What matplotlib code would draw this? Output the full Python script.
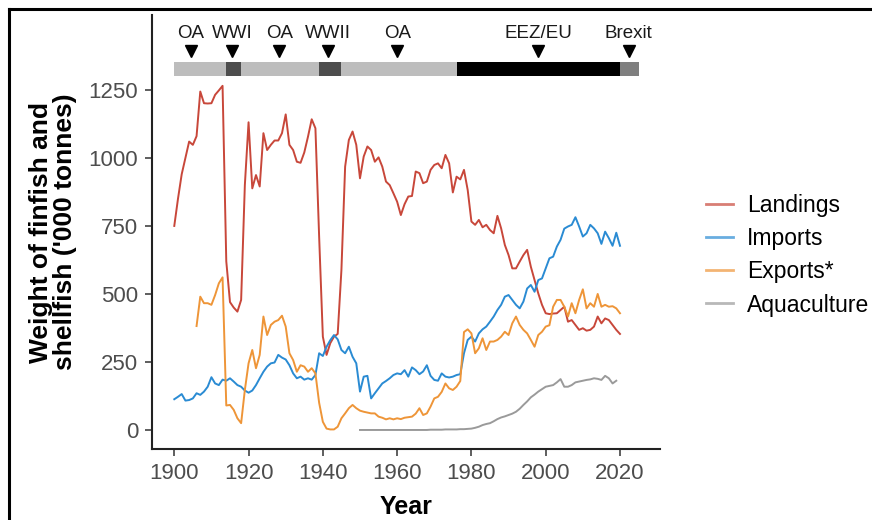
import matplotlib
matplotlib.use("Agg")
import matplotlib.pyplot as plt
from matplotlib.lines import Line2D

plt.rcParams['font.family'] = ['Liberation Sans', 'DejaVu Sans']

# Landings 1900-2020 ('000 tonnes)
landing_years = list(range(1900, 2021))
landings = [
    750, 850, 940, 1000, 1060, 1048, 1080, 1244, 1201, 1200,
    1201, 1232, 1248, 1265, 620, 470, 450, 435, 478, 900,
    1131, 888, 937, 895, 1091, 1029, 1048, 1064, 1064, 1091,
    1160, 1048, 1029, 986, 982, 1020, 1078, 1142, 1109, 711,
    343, 276, 319, 343, 353, 588, 968, 1066, 1097, 1048,
    925, 1005, 1042, 1029, 986, 1002, 968, 913, 900, 870,
    839, 790, 830, 858, 860, 950, 944, 907, 913, 956,
    974, 980, 962, 1011, 980, 873, 931, 921, 956, 882,
    766, 754, 772, 745, 754, 735, 723, 787, 741, 680,
    643, 594, 594, 619, 643, 662, 600, 551, 502, 460,
    429, 426, 428, 429, 441, 453, 398, 404, 386, 368,
    374, 365, 368, 380, 417, 392, 410, 404, 386, 368,
    353,
]

# Imports 1900-2020
import_years = list(range(1900, 2021))
imports = [
    113, 122, 132, 108, 110, 116, 135, 129, 141, 159,
    194, 171, 165, 185, 181, 190, 178, 165, 159, 145,
    137, 145, 165, 190, 214, 233, 245, 248, 276, 266,
    259, 238, 208, 190, 196, 185, 190, 185, 202, 282,
    272, 306, 330, 349, 333, 294, 282, 306, 269, 245,
    141, 196, 199, 116, 135, 153, 171, 180, 190, 202,
    208, 205, 220, 196, 230, 220, 205, 215, 238, 199,
    184, 181, 208, 196, 193, 196, 202, 205, 282, 331,
    343, 325, 355, 370, 380, 398, 417, 441, 460, 490,
    496, 478, 460, 447, 472, 520, 533, 508, 551, 557,
    594, 631, 637, 674, 699, 740, 748, 754, 782, 748,
    711, 723, 754, 741, 723, 684, 729, 705, 677, 725,
    677,
]

# Exports* 1906-2020
export_years = list(range(1906, 2021))
exports = [
    382, 490, 466, 466,
    460, 496, 539, 561, 90, 92, 74, 43, 25, 147,
    245, 294, 227, 276, 417, 349, 386, 398, 404, 420,
    380, 282, 257, 214, 238, 233, 214, 227, 208, 100,
    30, 5, 2, 2, 12, 43, 61, 80, 92, 80,
    71, 67, 64, 61, 61, 49, 45, 39, 43, 39,
    43, 40, 45, 47, 49, 60, 80, 55, 61, 86,
    116, 122, 140, 171, 153, 147, 159, 180, 360, 370,
    355, 282, 300, 337, 294, 325, 325, 331, 343, 361,
    349, 392, 417, 386, 368, 355, 331, 306, 349, 361,
    380, 385, 453, 478, 478, 453, 417, 466, 429, 478,
    517, 447, 466, 453, 500, 453, 460, 453, 455, 447,
    429,
]

# Aquaculture 1950-2019
aqua_years = list(range(1950, 2020))
aquaculture = [
    0, 0, 0, 0, 0, 0, 0, 0, 0, 0,
    0, 0, 0, 0, 0, 0, 0, 0, 0, 1,
    1, 1, 1, 2, 2, 2, 2, 3, 3, 4,
    5, 8, 12, 18, 22, 25, 32, 40, 46, 50,
    55, 60, 67, 78, 92, 105, 120, 130, 141, 150,
    159, 162, 165, 175, 187, 159, 159, 165, 175, 178,
    181, 184, 186, 190, 188, 184, 199, 190, 171, 181,
]

# Timeline of management periods (start, end, colour)
period_start = [1900, 1914, 1918, 1939, 1945, 1976, 2020]
period_end = [1914, 1918, 1939, 1945, 1976, 2020, 2025]
period_colour = ['#BDBDBD', '#4D4D4D', '#BDBDBD', '#4D4D4D', '#BDBDBD', '#000000', '#7F7F7F']

event_labels = ['OA', 'WWI', 'OA', 'WWII', 'OA', 'EEZ/EU', 'Brexit']
event_years = [1904.5, 1915.5, 1928.3, 1941.5, 1960, 1998, 2022.3]

fig = plt.figure(figsize=(8.72, 5.2), dpi=100)
ax = fig.add_axes([0.1743, 0.1365, 0.757 - 0.1743, 0.971 - 0.1365])

ax.plot(landing_years, landings, color='#C8473A', lw=1.4, label='Landings')
ax.plot(import_years, imports, color='#2A8BD3', lw=1.4, label='Imports')
ax.plot(export_years, exports, color='#EE9538', lw=1.4, label='Exports*')
ax.plot(aqua_years, aquaculture, color='#9A9A9A', lw=1.4, label='Aquaculture')

# timeline bar and event markers
for s, e, c in zip(period_start, period_end, period_colour):
    ax.broken_barh([(s, e - s)], (1302, 52), facecolors=c, edgecolors='none')
ax.plot(event_years, [1392] * len(event_years), linestyle='none', marker='v',
        color='black', markersize=9)
for lab, yr in zip(event_labels, event_years):
    ax.text(yr, 1425, lab, ha='center', va='bottom', fontsize=13.5, color='#1a1a1a')

ax.set_xlim(1894, 2030.8)
ax.set_ylim(-70, 1525)
ax.set_xticks([1900, 1920, 1940, 1960, 1980, 2000, 2020])
ax.set_yticks([0, 250, 500, 750, 1000, 1250])
ax.tick_params(labelsize=16, colors='#333333', length=5, width=1.1, labelcolor='#4D4D4D', pad=5)
for side in ['top', 'right']:
    ax.spines[side].set_visible(False)
for side in ['left', 'bottom']:
    ax.spines[side].set_linewidth(1.5)
    ax.spines[side].set_color('#222222')

ax.set_xlabel('Year', fontsize=18, fontweight='bold', labelpad=8)
ax.set_ylabel("Weight of finfish and\nshellfish ('000 tonnes)", fontsize=19,
              fontweight='bold', labelpad=8, linespacing=1.0)

leg = ax.legend(loc='center left', bbox_to_anchor=(1.09, 0.447), frameon=False,
                fontsize=16.5, handlelength=1.2, handletextpad=0.6, labelspacing=0.45,
                borderpad=0, borderaxespad=0)
for h in leg.get_lines():
    h.set_alpha(0.7)
    h.set_linewidth(2)

# frame lines of the screenshot
fig.add_artist(Line2D([9 / 872, 1], [1 - 9 / 520, 1 - 9 / 520], color='black', lw=2.2,
                      transform=fig.transFigure))
fig.add_artist(Line2D([9 / 872, 9 / 872], [0, 1 - 9 / 520], color='black', lw=2.2,
                      transform=fig.transFigure))

fig.savefig('out.png', dpi=100)
